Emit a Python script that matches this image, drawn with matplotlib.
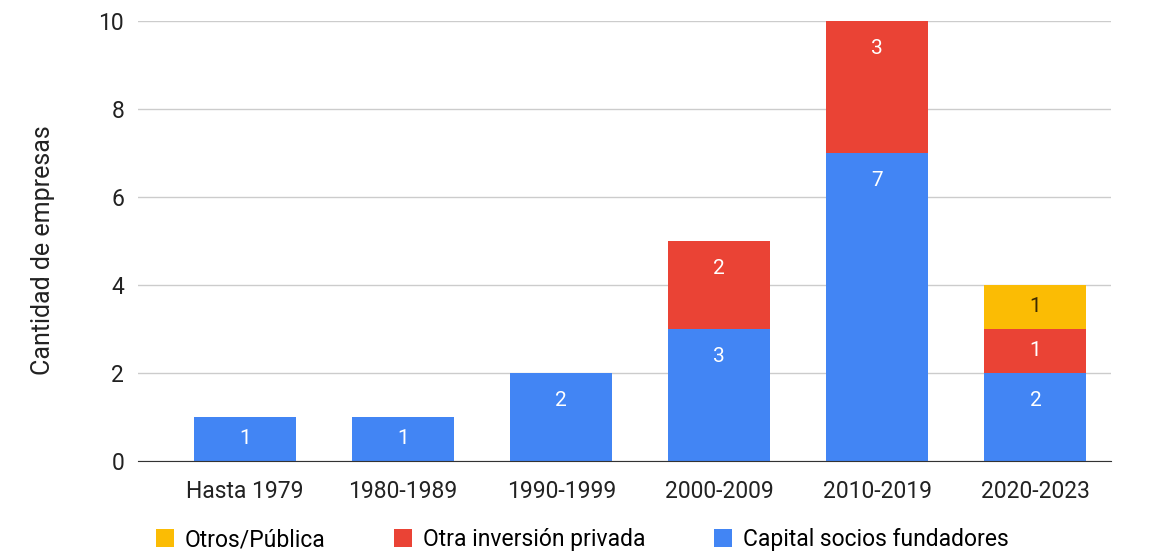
import matplotlib.pyplot as plt
import numpy as np

plt.rcParams['font.family'] = ['Roboto', 'DejaVu Sans']

categories = ['Hasta 1979', '1980-1989', '1990-1999', '2000-2009', '2010-2019', '2020-2023']
capital = [1, 1, 2, 3, 7, 2]
otra_privada = [0, 0, 0, 2, 3, 1]
otros_publica = [0, 0, 0, 0, 0, 1]

series = [
    ('Capital socios fundadores', capital, '#4285F4', 'white'),
    ('Otra inversión privada', otra_privada, '#EA4335', 'white'),
    ('Otros/Pública', otros_publica, '#FBBC04', '#3d2b00'),
]

fig = plt.figure(figsize=(11.55, 5.53), dpi=100)
ax = fig.add_axes([0.1195, 0.1664, 0.842, 0.7956])

x = np.arange(len(categories))
width = 0.645
bottom = np.zeros(len(categories))
handles = {}
for name, vals, color, tcolor in series:
    vals = np.array(vals, dtype=float)
    b = ax.bar(x, vals, width, bottom=bottom, color=color, zorder=3)
    handles[name] = b
    for xi, v, bt in zip(x, vals, bottom):
        if v > 0:
            off = min(0.62, v / 2)
            ax.text(xi, bt + v - off, '%d' % v, ha='center', va='center',
                    color=tcolor, fontsize=15, zorder=4)
    bottom += vals

ax.set_ylim(0, 10)
ax.set_xlim(-0.677, 5.475)
ax.set_yticks([0, 2, 4, 6, 8, 10])
ax.set_xticks(x)
ax.set_xticklabels(categories)
ax.yaxis.grid(True, color='#cccccc', linewidth=1, zorder=0)
ax.tick_params(axis='both', length=0, labelsize=16.5, colors='#222222')
ax.tick_params(axis='y', pad=10)
ax.tick_params(axis='x', pad=14)
for s in ['top', 'right', 'left']:
    ax.spines[s].set_visible(False)
ax.spines['bottom'].set_color('#333333')
ax.spines['bottom'].set_zorder(5)
ax.set_ylabel('Cantidad de empresas', fontsize=18, color='#222222', labelpad=30)
ax.yaxis.set_label_coords(-0.085, 0.48)

order = ['Otros/Pública', 'Otra inversión privada', 'Capital socios fundadores']
fig.legend([handles[n] for n in order], order, loc='center', ncol=3,
           bbox_to_anchor=(0.504, 0.024), frameon=False, fontsize=16.5,
           handlelength=0.8, handleheight=0.8, handletextpad=0.45, columnspacing=3.0)

plt.savefig('out.png', dpi=100)
